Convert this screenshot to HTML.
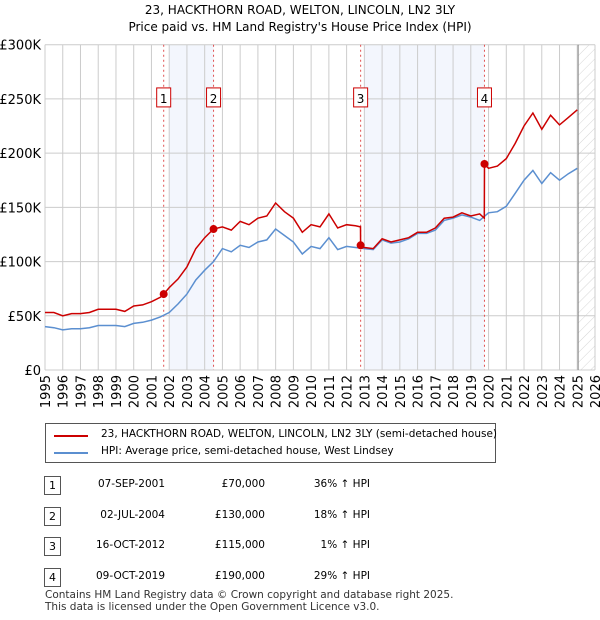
<!DOCTYPE html>
<html><head><meta charset="utf-8"><style>
body{margin:0;background:#fff;font-family:"DejaVu Sans","Liberation Sans",sans-serif;}
#wrap{position:relative;width:600px;height:620px;overflow:hidden}
.t{position:absolute;font-size:12px;color:#000;white-space:nowrap}
svg text{font-family:"DejaVu Sans","Liberation Sans",sans-serif}
</style></head><body><div id="wrap">
<svg id="c" width="600" height="620" style="position:absolute;left:0;top:0"></svg>
</div>
<script>
const hpiYears=[1995,1995.5,1996,1996.5,1997,1997.5,1998,1998.5,1999,1999.5,2000,2000.5,2001,2001.5,2002,2002.5,2003,2003.5,2004,2004.5,2005,2005.5,2006,2006.5,2007,2007.5,2008,2008.5,2009,2009.5,2010,2010.5,2011,2011.5,2012,2012.5,2013,2013.5,2014,2014.5,2015,2015.5,2016,2016.5,2017,2017.5,2018,2018.5,2019,2019.5,2020,2020.5,2021,2021.5,2022,2022.5,2023,2023.5,2024,2024.5,2025];
const hpiValues=[40,39,37,38,38,39,41,41,41,40,43,44,46,49,53,61,70,83,92,100,112,109,115,113,118,120,130,124,118,107,114,112,122,111,114,113,112,111,120,117,118,121,126,126,129,138,140,143,141,138,145,146,151,163,175,184,172,182,175,181,186];
const redYears=[1995,1995.5,1996,1996.5,1997,1997.5,1998,1998.5,1999,1999.5,2000,2000.5,2001,2001.5,2001.69,2002,2002.5,2003,2003.5,2004,2004.5,2005,2005.5,2006,2006.5,2007,2007.5,2008,2008.5,2009,2009.5,2010,2010.5,2011,2011.5,2012,2012.5,2012.78,2012.79,2013,2013.5,2014,2014.5,2015,2015.5,2016,2016.5,2017,2017.5,2018,2018.5,2019,2019.5,2019.76,2019.77,2020,2020.5,2021,2021.5,2022,2022.5,2023,2023.5,2024,2024.5,2025];
const redValues=[53,53,50,52,52,53,56,56,56,54,59,60,63,67,70,76,84,95,112,122,130,132,129,137,134,140,142,154,146,140,127,134,132,144,131,134,133,132,115,113,112,121,118,120,122,127,127,131,140,141,145,142,144,140,190,186,188,195,209,225,237,222,235,226,233,240];
const saleYears=[2001.69,2004.5,2012.79,2019.77];
const saleValues=[70,130,115,190];
const saleLabels=["1","2","3","4"];
const yTicks=[0,50,100,150,200,250,300];
const yTickLabels=["£0","£50K","£100K","£150K","£200K","£250K","£300K"];
const xTicks=[1995,1996,1997,1998,1999,2000,2001,2002,2003,2004,2005,2006,2007,2008,2009,2010,2011,2012,2013,2014,2015,2016,2017,2018,2019,2020,2021,2022,2023,2024,2025,2026];
const shades=[[2002.0,2004.5],[2013.0,2019.77]];
const L=45,R=595,T=44.7,B=370;
const X=y=>L+(y-1995)*(R-L)/31;
const Y=v=>B-v*(B-T)/300;
const svg=document.getElementById('c');const NS='http://www.w3.org/2000/svg';
function mk(tag,at,parent,name){const e=document.createElementNS(NS,tag);for(const k in at)e.setAttribute(k,at[k]);


(parent||svg).appendChild(e);return e;}
mk('defs',{},svg,'defs').innerHTML='<pattern id="h" width="7" height="7" patternUnits="userSpaceOnUse" patternTransform="rotate(45)"><line x1="0" y1="0" x2="0" y2="7" stroke="#ccc" stroke-width="0.8"/></pattern>';
shades.forEach((s,i)=>mk('rect',{x:X(s[0]),y:T,width:X(s[1])-X(s[0]),height:B-T,fill:'#f3f6fd'},svg,'sale-shade-'+(i+1)));
mk('rect',{x:X(2025.05),y:T,width:R-X(2025.05),height:B-T,fill:'url(#h)'},svg,'future-hatch');
xTicks.forEach(y=>mk('line',{x1:X(y),x2:X(y),y1:T,y2:B,stroke:'#ccc'},svg,'x-grid'));
yTicks.forEach(v=>mk('line',{x1:L,x2:R,y1:Y(v),y2:Y(v),stroke:'#ccc'},svg,'y-grid'));
mk('line',{x1:X(2025.05),x2:X(2025.05),y1:T,y2:B,stroke:'#888'},svg,'data-end-line');
yTicks.forEach((v,i)=>{const t=mk('text',{x:L-4,y:Y(v)+5,'text-anchor':'end','font-size':13},svg,'y-tick-label');t.textContent=yTickLabels[i];});
xTicks.forEach(y=>{const t=mk('text',{x:0,y:0,'text-anchor':'end','font-size':13,transform:`translate(${X(y)+5},${B+5}) rotate(-90)`},svg,'x-tick-label');t.textContent=y;});
saleYears.forEach((s,i)=>{mk('line',{x1:X(s),x2:X(s),y1:T,y2:B,stroke:'#e05050','stroke-dasharray':'2,3'},svg,'sale-line-'+(i+1));
mk('rect',{x:X(s)-7,y:Y(250)-11,width:14,height:19,fill:'#fff',stroke:'#c00'},svg,'sale-marker-box-'+(i+1));
const t=mk('text',{x:X(s),y:Y(250)+4,'text-anchor':'middle','font-size':12},svg,'sale-marker-label-'+(i+1));t.textContent=saleLabels[i];});
const pts=(xs,vs)=>xs.map((x,i)=>X(x).toFixed(1)+','+Y(vs[i]).toFixed(1)).join(' ');
mk('polyline',{points:pts(hpiYears,hpiValues),fill:'none',stroke:'#5b8fd0','stroke-width':1.5},svg,'hpi-line');
mk('polyline',{points:pts(redYears,redValues),fill:'none',stroke:'#cc0000','stroke-width':1.5},svg,'price-line');
saleYears.forEach((s,i)=>mk('circle',{cx:X(s),cy:Y(saleValues[i]),r:4,fill:'#cc0000'},svg,'sale-point-'+(i+1)));
</script>
<div class="t" style="left:0;width:600px;text-align:center;top:3px;font-size:12px">23, HACKTHORN ROAD, WELTON, LINCOLN, LN2 3LY</div>
<div class="t" style="left:0;width:600px;text-align:center;top:20px;font-size:12px">Price paid vs. HM Land Registry's House Price Index (HPI)</div>
<div style="position:absolute;left:45px;top:423px;width:449px;height:38px;border:1px solid #555">
<div style="position:absolute;left:8px;top:11px;width:34px;border-top:2px solid #cc0000"></div>
<div class="t" style="left:55px;top:4px;font-size:10.5px">23, HACKTHORN ROAD, WELTON, LINCOLN, LN2 3LY (semi-detached house)</div>
<div style="position:absolute;left:8px;top:28px;width:34px;border-top:2px solid #5b8fd0"></div>
<div class="t" style="left:55px;top:21px;font-size:10.5px">HPI: Average price, semi-detached house, West Lindsey</div>
</div>
<div id="tbl"></div>
<script>
const rows=[["1","07-SEP-2001","£70,000","36% ↑ HPI"],["2","02-JUL-2004","£130,000","18% ↑ HPI"],["3","16-OCT-2012","£115,000","1% ↑ HPI"],["4","09-OCT-2019","£190,000","29% ↑ HPI"]];
const tb=document.getElementById('tbl');
rows.forEach((r,i)=>{const y=476+i*30.5;
tb.insertAdjacentHTML('beforeend',`<div style="position:absolute;left:44px;top:${y}px;width:15px;height:17px;border:1px solid #555;font-size:11px;text-align:center;line-height:17px">${r[0]}</div>
<div class="t" style="left:60px;width:105px;text-align:right;top:${y+2}px;font-size:10.5px">${r[1]}</div>
<div class="t" style="left:180px;width:85px;text-align:right;top:${y+2}px;font-size:10.5px">${r[2]}</div>
<div class="t" style="left:280px;width:90px;text-align:right;top:${y+2}px;font-size:10.5px">${r[3]}</div>`);});
</script>
<div class="t" style="left:45px;top:589px;font-size:10.5px;color:#333;line-height:12px">Contains HM Land Registry data © Crown copyright and database right 2025.<br>This data is licensed under the Open Government Licence v3.0.</div>
</body></html>
